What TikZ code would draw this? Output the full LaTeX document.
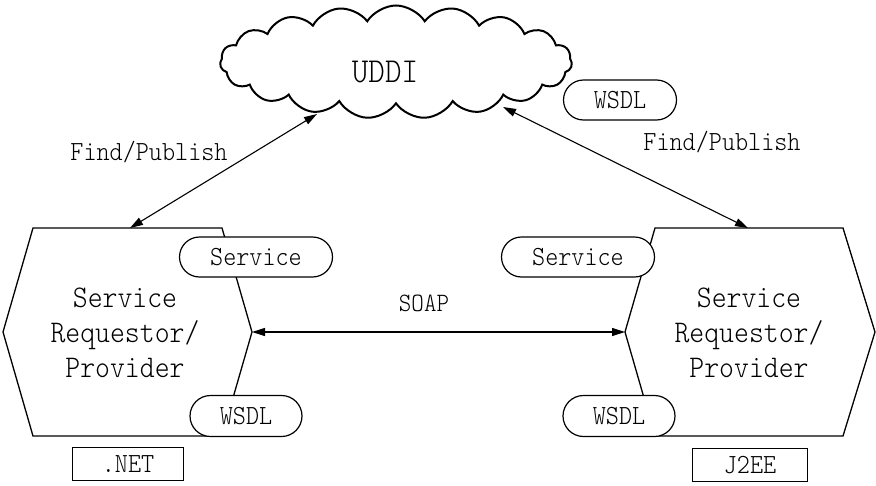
\documentclass[tikz,border=0pt]{standalone}
\usepackage{fontspec}
\newfontfamily\diagfont{lmmonolt10-regular.otf}[FakeStretch=0.9]
\usetikzlibrary{shapes.symbols,shapes.misc,arrows.meta}
\begin{document}
\begin{tikzpicture}[x=1pt,y=-1pt,
  outline/.style={line width=1.3pt, line join=miter},
  pill/.style={rounded rectangle, draw, fill=white, line width=1.2pt,
    inner sep=0pt, font=\fontsize{27.7}{30}\diagfont},
  tagbox/.style={draw, rectangle, line width=1.2pt, inner sep=0pt,
    minimum height=33pt, font=\fontsize{27.7}{30}\diagfont},
  hexlabel/.style={align=center, inner sep=0pt,
    font=\fontsize{31.5}{35}\diagfont},
  plain/.style={inner sep=0pt, font=\fontsize{27.7}{30}\diagfont},
  conn/.style={{Triangle[length=13pt,width=8pt]}-{Triangle[length=13pt,width=8pt]},
    line width=1.1pt}]
\useasboundingbox (0,0) rectangle (876,485);

% registry cloud
\node[cloud, draw, line width=2pt, cloud puffs=19, cloud puff arc=115,
  cloud ignores aspect, minimum width=352pt, minimum height=113pt,
  inner sep=0pt] (uddi) at (396,62) {};
\node[inner sep=0pt, font=\fontsize{35}{38}\diagfont] (uddilabel) at (385,72) {UDDI};
\node[pill, minimum width=113pt, minimum height=40pt] (wsdlreg) at (620,100) {WSDL};

% left participant (.NET)
\draw[outline] (33,228) -- (222,228) -- (252,332) -- (222,436) -- (33,436) -- (3,332) -- cycle;
\coordinate (Lt) at (130,228);
\coordinate (Le) at (252,332);
\node[hexlabel] (Llabel) at (125,333) {Service\\Requestor/\\Provider};
\node[pill, minimum width=153pt, minimum height=40pt] (Lservice) at (256,257) {Service};
\node[pill, minimum width=112pt, minimum height=41pt] (Lwsdl) at (246,416) {WSDL};
\node[tagbox, minimum width=111pt] (net) at (128,464) {.NET};

% right participant (J2EE)
\draw[outline] (655,228) -- (843,228) -- (875,332) -- (843,436) -- (655,436) -- (625,332) -- cycle;
\coordinate (Rt) at (748,228);
\coordinate (Rw) at (625,332);
\node[hexlabel] (Rlabel) at (749,333) {Service\\Requestor/\\Provider};
\node[pill, minimum width=153pt, minimum height=40pt] (Rservice) at (578,257) {Service};
\node[pill, minimum width=112pt, minimum height=41pt] (Rwsdl) at (619,416) {WSDL};
\node[tagbox, minimum width=115pt] (j2ee) at (750,465) {J2EE};

% connectors
\coordinate (uddiL) at (317,114);
\coordinate (uddiR) at (503,107);
\draw[conn] (Lt) -- (uddiL);
\draw[conn] (Rt) -- (uddiR);
\draw[conn] (Le) -- (Rw);

% connector labels
\node[plain] (fpL) at (149,152) {Find/Publish};
\node[plain] (fpR) at (722,142) {Find/Publish};
\node[plain, font=\fontsize{26.5}{28}\diagfont] (soap) at (424,303) {SOAP};
\end{tikzpicture}
\end{document}
